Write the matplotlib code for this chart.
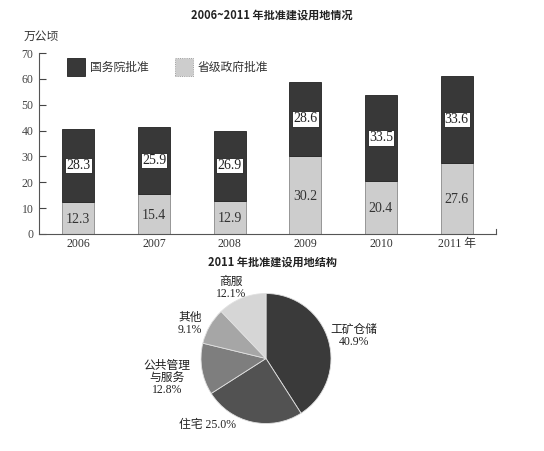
import matplotlib.pyplot as plt
import numpy as np

plt.rcParams['font.family'] = ['Liberation Serif', 'Noto Sans CJK SC', 'DejaVu Sans']

# 2006~2011 年批准建设用地情况 (万公顷)
years = ['2006', '2007', '2008', '2009', '2010', '2011 年']
guowuyuan = [28.3, 25.9, 26.9, 28.6, 33.5, 33.6]   # 国务院批准
shengji = [12.3, 15.4, 12.9, 30.2, 20.4, 27.6]     # 省级政府批准

# 2011 年批准建设用地结构 (%)
pie_labels = ['工矿仓储', '住宅', '公共管理\n与服务', '其他', '商服']
pie_values = [40.9, 25.0, 12.8, 9.1, 12.1]

W, H = 544, 451
fig = plt.figure(figsize=(W / 100, H / 100), dpi=100)
fig.patch.set_facecolor('white')

def fx(px):
    return px / W

def fy(py):
    return 1 - py / H

cjk = ['Noto Sans CJK SC', 'DejaVu Sans']
mixed = ['Liberation Serif', 'Noto Sans CJK SC', 'DejaVu Sans']
dark = '#383838'
light = '#cdcdcd'

# ---------- 柱状图 ----------
ax = fig.add_axes([fx(39), fy(234), fx(496) - fx(39), fy(53) - fy(234)])
x = np.arange(len(years))
w = 0.42
ax.bar(x, shengji, w, color=light, edgecolor='#8a8a8a', linewidth=0.6)
ax.bar(x, guowuyuan, w, bottom=shengji, color=dark, edgecolor='#222222', linewidth=0.6)

for i in range(len(years)):
    ax.text(x[i], shengji[i] + guowuyuan[i] / 2, f'{guowuyuan[i]:.1f}', ha='center', va='center',
            fontsize=10, color='#222222',
            bbox=dict(boxstyle='square,pad=0.08', facecolor='white', edgecolor='#222222', linewidth=0.6))
    ax.text(x[i], shengji[i] / 2 - 0.5, f'{shengji[i]:.1f}', ha='center', va='center',
            fontsize=10, color='#333333')

ax.set_xlim(-0.52, 5.52)
ax.set_ylim(0, 70)
ax.set_yticks(range(0, 71, 10))
ax.set_xticks(x)
ax.set_xticklabels(years, fontsize=8.5)
for lab in ax.get_xticklabels():
    lab.set_family(mixed)
ax.tick_params(axis='y', direction='in', length=5, width=0.8, labelsize=8.5, pad=4, colors='#444444')
ax.tick_params(axis='x', length=0, pad=3, colors='#333333')
ax.spines['top'].set_visible(False)
ax.spines['right'].set_visible(False)
ax.spines['left'].set_color('#555555')
ax.spines['bottom'].set_color('#555555')
ax.plot([1.0, 1.0], [0, 0.025], transform=ax.transAxes, color='#555555', lw=0.8, clip_on=False)
ax.set_facecolor('none')

# legend
fig.patches.append(plt.Rectangle((fx(67), fy(76)), fx(18), fy(58) - fy(76), transform=fig.transFigure,
                                 facecolor=dark, edgecolor='#222222', linewidth=0.6))
fig.text(fx(90), fy(67), '国务院批准', fontsize=8.5, family=cjk, va='center', color='#333333')
fig.patches.append(plt.Rectangle((fx(175), fy(76)), fx(18), fy(58) - fy(76), transform=fig.transFigure,
                                 facecolor=light, edgecolor='#8a8a8a', linewidth=0.6, linestyle=':'))
fig.text(fx(198), fy(67), '省级政府批准', fontsize=8.5, family=cjk, va='center', color='#333333')

fig.text(fx(272), fy(15), '2006~2011 年批准建设用地情况', fontsize=8, family=cjk,
         fontweight='bold', ha='center', va='center', color='#222222')
fig.text(fx(24), fy(36), '万公顷', fontsize=8.5, family=cjk, va='center', color='#333333')

# ---------- 饼图 ----------
fig.text(fx(272), fy(262), '2011 年批准建设用地结构', fontsize=8, family=cjk,
         fontweight='bold', ha='center', va='center', color='#222222')

cx, cy, r = 266, 358.5, 65
pax = fig.add_axes([fx(cx - r), fy(cy + r), fx(2 * r), fy(0) - fy(2 * r)])
pie_colors = ['#3a3a3a', '#525252', '#7e7e7e', '#a6a6a6', '#d6d6d6']
pax.pie(pie_values, colors=pie_colors, startangle=90, counterclock=False,
        wedgeprops=dict(edgecolor='#e0e0e0', linewidth=0.6))
pax.set_xlim(-1, 1)
pax.set_ylim(-1, 1)
pax.set_aspect('equal')
pax.axis('off')

def pt(px, py):
    return (px - cx) / r, (cy - py) / r

label_pos = {
    '工矿仓储': (354, 336),
    '住宅': (208, 425),
    '公共管理\n与服务': (167, 378),
    '其他': (190, 324),
    '商服': (231, 288),
}
for name, val in zip(pie_labels, pie_values):
    px, py = label_pos[name]
    if name == '住宅':
        txt = f'{name} {val:.1f}%'
    else:
        txt = f'{name}\n{val:.1f}%'
    tx, ty = pt(px, py)
    pax.text(tx, ty, txt, ha='center', va='center', fontsize=8.5, family=mixed,
             linespacing=1.05, color='#222222', clip_on=False)

fig.savefig('out.png', dpi=100, facecolor='white')
